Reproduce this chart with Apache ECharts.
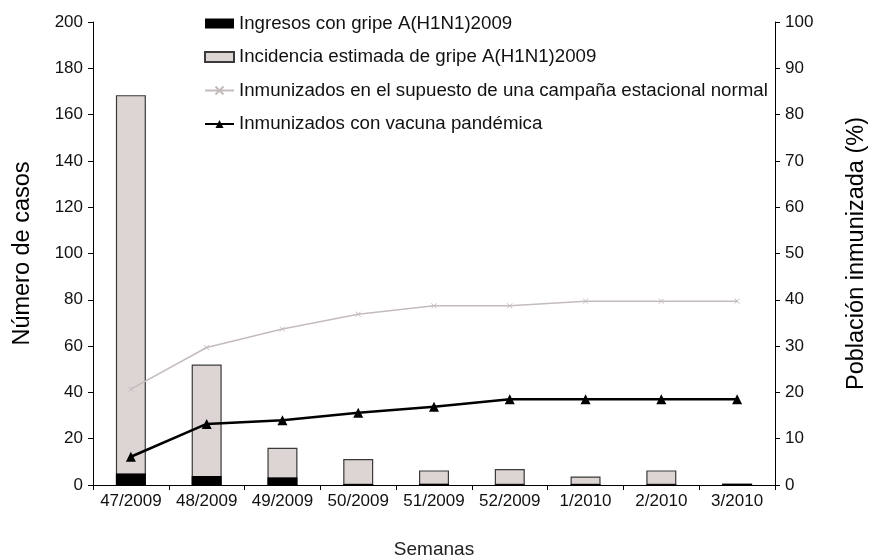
<!DOCTYPE html>
<html>
<head>
<meta charset="utf-8">
<script src="https://cdn.jsdelivr.net/npm/echarts@6/dist/echarts.min.js"></script>
<style>
  html, body { margin: 0; padding: 0; background: #fff; }
  #chart { width: 869px; height: 556px; }
</style>
</head>
<body>
<div id="chart"></div>
<script>
// weeks on the x axis
const semanas = ['47/2009', '48/2009', '49/2009', '50/2009', '51/2009', '52/2009', '1/2010', '2/2010', '3/2010'];

// cases (left axis)
const ingresos = [5.0, 3.9, 3.3, 0.4, 0.5, 0.3, 0.4, 0.3, 0.5];
const incidencia = [168.4, 52, 16.1, 11.2, 6.3, 6.9, 3.7, 6.3, 0.6];

// % immunised (right axis)
const campanaNormal = [20.7, 29.7, 33.7, 36.9, 38.7, 38.7, 39.7, 39.7, 39.7];
const vacunaPandemica = [6.1, 13.2, 14.0, 15.6, 16.9, 18.5, 18.5, 18.5, 18.5];

const nombres = [
    'Ingresos con gripe A(H1N1)2009',
    'Incidencia estimada de gripe A(H1N1)2009',
    'Inmunizados en el supuesto de una campaña estacional normal',
    'Inmunizados con vacuna pandémica'
];

const font = 'Liberation Sans, Arial, sans-serif';
const axisLine = { show: true, lineStyle: { color: '#000', width: 1 } };
const cross = 'path://M0,0 L10,10 M10,0 L0,10';

const chart = echarts.init(document.getElementById('chart'));

const option = {
    animation: false,
    textStyle: { fontFamily: font },
    grid: { left: 93, right: 94, top: 22, bottom: 71, containLabel: false, outerBoundsMode: 'none' },
    legend: {
        orient: 'vertical',
        left: 199,
        top: 9,
        itemWidth: 29,
        itemHeight: 10,
        itemGap: 14.5,
        data: nombres.map(function (n, i) { return i < 2 ? { name: n, icon: 'rect' } : { name: n }; }),
        textStyle: { fontFamily: font, fontSize: 18.7, lineHeight: 19, color: '#111' }
    },
    xAxis: {
        type: 'category',
        data: semanas,
        name: 'Semanas',
        nameLocation: 'middle',
        nameGap: 55,
        nameTextStyle: { fontSize: 19, color: '#222' },
        axisLine: axisLine,
        axisTick: { show: true, length: 5, lineStyle: { color: '#000' } },
        axisLabel: { fontSize: 17, color: '#111', margin: 8, interval: 0 }
    },
    yAxis: [
        {
            type: 'value',
            min: 0, max: 200, interval: 20,
            name: 'Número de casos',
            nameLocation: 'middle',
            nameGap: 58,
            nameTextStyle: { fontSize: 23.5, color: '#000' },
            axisLine: axisLine,
            axisTick: { show: true, length: 5, lineStyle: { color: '#000' } },
            axisLabel: { fontSize: 17, color: '#111', margin: 10 },
            splitLine: { show: false }
        },
        {
            type: 'value',
            min: 0, max: 100, interval: 10,
            name: 'Población inmunizada (%)',
            nameLocation: 'middle',
            nameGap: 70,
            nameRotate: 90,
            nameTextStyle: { fontSize: 23.5, color: '#000' },
            axisLine: axisLine,
            axisTick: { show: true, length: 5, lineStyle: { color: '#000' } },
            axisLabel: { fontSize: 17, color: '#111', margin: 10 },
            splitLine: { show: false }
        }
    ],
    series: [
        {
            name: nombres[1],
            type: 'bar',
            data: incidencia,
            barWidth: 30,
            z: 1,
            itemStyle: { color: '#dcd5d3', borderColor: '#3a3a3a', borderWidth: 1.2 }
        },
        {
            name: nombres[0],
            type: 'bar',
            data: ingresos,
            barWidth: 30,
            barGap: '-100%',
            z: 2,
            itemStyle: { color: '#000' }
        },
        {
            name: nombres[2],
            type: 'line',
            yAxisIndex: 1,
            data: campanaNormal,
            z: 3,
            symbol: cross,
            symbolSize: 5,
            lineStyle: { color: '#c4bcbc', width: 1.5 },
            itemStyle: { color: '#c4bcbc', borderColor: '#c4bcbc', borderWidth: 1 }
        },
        {
            name: nombres[3],
            type: 'line',
            yAxisIndex: 1,
            data: vacunaPandemica,
            z: 4,
            symbol: 'triangle',
            symbolSize: 10,
            lineStyle: { color: '#000', width: 2.5 },
            itemStyle: { color: '#000' }
        }
    ]
};

option && chart.setOption(option);
</script>
</body>
</html>
